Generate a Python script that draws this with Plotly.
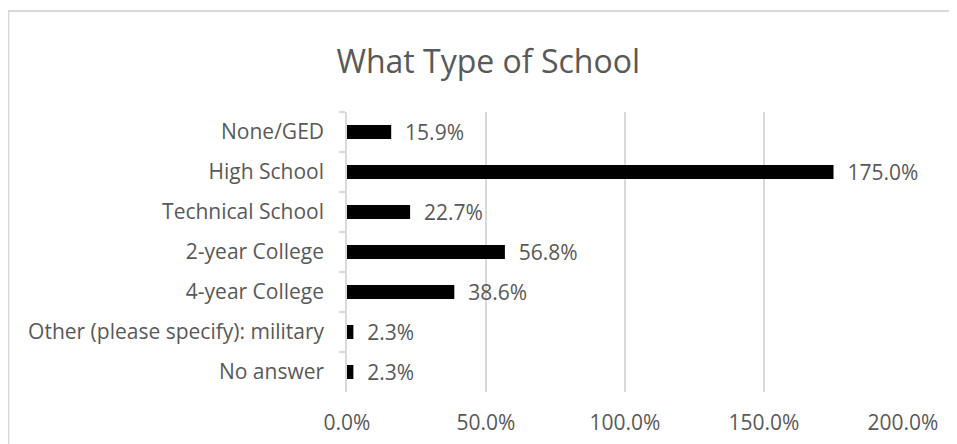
import plotly.graph_objects as go

# Survey answers: what type of school
categories = ["None/GED", "High School", "Technical School", "2-year College",
              "4-year College", "Other (please specify): military", "No answer"]
percent = [15.9, 175.0, 22.7, 56.8, 38.6, 2.3, 2.3]
x_ticks = [0, 50, 100, 150, 200]
x_tick_text = [f"{v:.1f}%" for v in x_ticks]

grey_text = "#595959"
grey_line = "#d9d9d9"
font_name = "Open Sans"

fig = go.Figure(go.Bar(
    y=categories,
    x=percent,
    orientation="h",
    marker=dict(color="black", line=dict(width=0)),
    width=0.35,
    text=percent,
    texttemplate="  %{x:.1f}%",
    textposition="outside",
    constraintext="none",
    textfont=dict(family=font_name, size=21, color=grey_text),
    cliponaxis=False,
))

# the page adds an 8px body margin, so the figure is 8px smaller than the window
fig.update_layout(
    width=949, height=436,
    margin=dict(l=339, r=54, t=104, b=52),
    paper_bgcolor="white", plot_bgcolor="white",
    title=dict(text="What Type of School", x=0.506, xref="container", xanchor="center",
               y=1 - 54 / 436, yref="container", yanchor="middle",
               font=dict(family=font_name, size=32, color=grey_text)),
    showlegend=False,
    font=dict(family=font_name, color=grey_text),
)

fig.update_xaxes(
    range=[0, 200], tickmode="array", tickvals=x_ticks, ticktext=x_tick_text,
    showgrid=True, gridcolor=grey_line, gridwidth=1.5, zeroline=False, showline=False,
    tickfont=dict(family=font_name, size=21, color=grey_text),
    ticklabelstandoff=16, automargin=False,
)
fig.update_yaxes(
    categoryorder="array", categoryarray=categories, autorange="reversed",
    showline=True, linecolor=grey_line, linewidth=1.5,
    ticks="outside", tickson="boundaries", ticklen=6, tickcolor=grey_line, tickwidth=1.5,
    tickfont=dict(family=font_name, size=21, color=grey_text),
    ticklabelstandoff=17, showgrid=False, automargin=False,
)

# outer chart frame
fig.add_shape(type="rect", xref="paper", yref="paper",
              x0=-0.609, x1=1.3, y0=-0.4, y1=1.361,
              line=dict(color=grey_line, width=2), fillcolor="rgba(0,0,0,0)", layer="below")

fig.write_html("out.html")
